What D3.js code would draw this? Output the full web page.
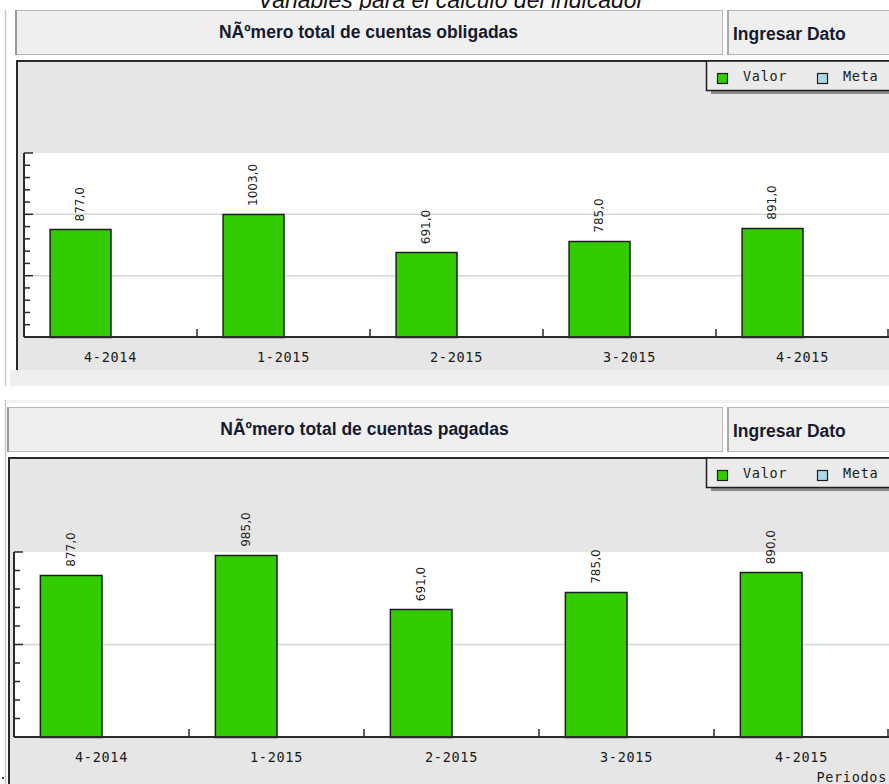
<!DOCTYPE html>
<html>
<head>
<meta charset="utf-8">
<script src="https://cdn.jsdelivr.net/npm/d3@7"></script>
<style>
  html, body { margin: 0; padding: 0; background: #ffffff; }
  svg { display: block; }
</style>
</head>
<body>
<svg id="page" width="889" height="784"></svg>
<script>
// Periods on the category axis
const periods = ["4-2014", "1-2015", "2-2015", "3-2015", "4-2015"];
// Series names (legend)
const seriesNames = ["Valor", "Meta"];
// Values per period
const obligadasValor = [877, 1003, 691, 785, 891];
const pagadasValor = [877, 985, 691, 785, 890];
const metaValor = [null, null, null, null, null];
// Value axis ticks
const obligadasMinorTicks = d3.range(0, 1501, 100);
const obligadasMajorTicks = [500, 1000, 1500];
const pagadasMinorTicks = d3.range(0, 1001, 100);
const pagadasMajorTicks = [500, 1000];

const pageTitle = "Variables para el cálculo del indicador";
const titles = ["NÃºmero total de cuentas obligadas", "NÃºmero total de cuentas pagadas"];
const actionLabel = "Ingresar Dato";
const xAxisName = "Periodos";

const svg = d3.select("#page");
const W = 889;
const colors = { Valor: "#33cc00", Meta: "#add8e6" };
const mono = "'DejaVu Sans Mono', 'Liberation Mono', monospace";

// page heading, partly above the top edge
svg.append("text")
  .attr("x", 451).attr("y", 8)
  .attr("text-anchor", "middle")
  .attr("font-family", "'Liberation Sans', Arial, sans-serif")
  .attr("font-style", "italic")
  .attr("font-size", 23)
  .attr("fill", "#111")
  .text(pageTitle);

function header(y, left, title) {
  const g = svg.append("g");
  g.append("rect").attr("x", left + 0.5).attr("y", y + 0.5)
    .attr("width", 722 - left).attr("height", 44)
    .attr("fill", "#efefef").attr("stroke", "#b8b8b8");
  g.append("line").attr("x1", left + 1).attr("x2", left + 1).attr("y1", y).attr("y2", y + 45)
    .attr("stroke", "#9a9a9a").attr("stroke-width", 2);
  g.append("rect").attr("x", 727.5).attr("y", y + 0.5)
    .attr("width", 170).attr("height", 44)
    .attr("fill", "#efefef").attr("stroke", "#b8b8b8");
  g.append("line").attr("x1", 728).attr("x2", 728).attr("y1", y).attr("y2", y + 45)
    .attr("stroke", "#a8a8a8").attr("stroke-width", 2);
  g.append("text")
    .attr("x", (left + 722) / 2).attr("y", y + 28)
    .attr("text-anchor", "middle")
    .attr("font-family", "'Liberation Sans', Arial, sans-serif")
    .attr("font-weight", "bold").attr("font-size", 17.5)
    .attr("fill", "#161a30")
    .text(title);
  g.append("text")
    .attr("x", 733).attr("y", y + 30)
    .attr("font-family", "'Liberation Sans', Arial, sans-serif")
    .attr("font-weight", "bold").attr("font-size", 17.5)
    .attr("fill", "#161a30")
    .text(actionLabel);
}

function chart(cfg) {
  const g = svg.append("g");
  // frame background with top and left border
  g.append("rect")
    .attr("x", cfg.frameX).attr("y", cfg.frameY)
    .attr("width", W - cfg.frameX + 10).attr("height", cfg.frameH)
    .attr("fill", "#e6e6e6");
  g.append("path")
    .attr("d", `M${cfg.frameX},${cfg.frameY + cfg.frameH}V${cfg.frameY}H${W + 5}`)
    .attr("fill", "none").attr("stroke", "#2a2a2a").attr("stroke-width", 2);

  const x = d3.scaleBand().domain(periods).range([cfg.left, cfg.right]).padding(0);
  const xs = d3.scaleBand().domain(seriesNames).range([0, x.bandwidth()]).paddingOuter(0.42).paddingInner(0);
  const y = d3.scaleLinear().domain(cfg.domain).range([cfg.bottom, cfg.top]);

  // plot area
  g.append("rect")
    .attr("x", cfg.left).attr("y", cfg.top)
    .attr("width", cfg.right - cfg.left + 10).attr("height", cfg.bottom - cfg.top)
    .attr("fill", "#ffffff");

  // grid lines
  g.selectAll(".grid").data(cfg.major.filter(v => v < cfg.domain[1])).join("line")
    .attr("x1", cfg.left).attr("x2", cfg.right + 10)
    .attr("y1", d => y(d)).attr("y2", d => y(d))
    .attr("stroke", "#d6d6d6").attr("stroke-width", 1.5);

  // bars
  const rows = periods.map((p, i) => ({ p, vals: [
    { s: "Valor", v: cfg.values[i] },
    { s: "Meta", v: metaValor[i] }
  ]}));
  const grp = g.selectAll(".grp").data(rows).join("g")
    .attr("transform", d => `translate(${x(d.p)},0)`);
  grp.selectAll("rect").data(d => d.vals.filter(e => e.v != null)).join("rect")
    .attr("x", d => xs(d.s) + 0.5)
    .attr("y", d => Math.round(y(d.v)) + 0.5)
    .attr("width", xs.bandwidth())
    .attr("height", d => cfg.bottom - Math.round(y(d.v)))
    .attr("fill", d => colors[d.s])
    .attr("stroke", "#1e1e1e").attr("stroke-width", 1.5);
  grp.selectAll("text").data(d => d.vals.filter(e => e.v != null)).join("text")
    .attr("transform", d => `translate(${xs(d.s) + xs.bandwidth() / 2 + 4},${y(d.v) - 8}) rotate(-90)`)
    .attr("font-family", "'DejaVu Sans', sans-serif")
    .attr("font-size", 12)
    .attr("fill", "#222")
    .text(d => d3.format(".1f")(d.v).replace(".", ","));

  // value axis with minor and major ticks pointing inward
  g.append("line").attr("x1", cfg.left).attr("x2", cfg.left)
    .attr("y1", cfg.top).attr("y2", cfg.bottom)
    .attr("stroke", "#2a2a2a").attr("stroke-width", 2);
  g.selectAll(".ytick").data(cfg.minor).join("line")
    .attr("x1", cfg.left)
    .attr("x2", d => cfg.left + (cfg.major.includes(d) ? 9 : 6))
    .attr("y1", d => y(d)).attr("y2", d => y(d))
    .attr("stroke", "#2a2a2a").attr("stroke-width", 1.5);

  // category axis
  g.append("line").attr("x1", cfg.left).attr("x2", cfg.right + 10)
    .attr("y1", cfg.bottom).attr("y2", cfg.bottom)
    .attr("stroke", "#2a2a2a").attr("stroke-width", 2);
  g.selectAll(".xtick").data(periods.slice(1).map(p => x(p)).concat([cfg.right - 1])).join("line")
    .attr("x1", d => d).attr("x2", d => d)
    .attr("y1", cfg.bottom).attr("y2", cfg.bottom - 8)
    .attr("stroke", "#2a2a2a").attr("stroke-width", 1.5);
  g.selectAll(".xlabel").data(periods).join("text")
    .attr("x", d => x(d) + x.bandwidth() / 2)
    .attr("y", cfg.bottom + 25)
    .attr("text-anchor", "middle")
    .attr("font-family", mono).attr("font-size", 13.5)
    .attr("letter-spacing", 0.7)
    .attr("fill", "#1a1a1a")
    .text(d => d);

  if (cfg.axisName) {
    g.append("text")
      .attr("x", 887).attr("y", cfg.bottom + 45)
      .attr("text-anchor", "end")
      .attr("font-family", mono).attr("font-size", 13.5)
      .attr("letter-spacing", 0.7)
      .attr("fill", "#1a1a1a")
      .text(xAxisName);
  }

  // legend
  const lx = 706, ly = cfg.frameY;
  g.append("rect").attr("x", lx + 5).attr("y", ly + 4).attr("width", 200).attr("height", 29)
    .attr("fill", "#8a8a8a");
  g.append("rect").attr("x", lx + 0.5).attr("y", ly).attr("width", 200).attr("height", 29.5)
    .attr("fill", "#ebebeb").attr("stroke", "#1e1e1e").attr("stroke-width", 1.5);
  const items = [{ s: "Valor", x: 717 }, { s: "Meta", x: 817 }];
  items.forEach(it => {
    g.append("rect").attr("x", it.x + 0.5).attr("y", ly + 12.5).attr("width", 10).attr("height", 10)
      .attr("fill", colors[it.s]).attr("stroke", "#1e1e1e").attr("stroke-width", 1.2);
    g.append("text").attr("x", it.x + 26).attr("y", ly + 20)
      .attr("font-family", mono).attr("font-size", 13.5).attr("letter-spacing", 0.7)
      .attr("fill", "#1a1a1a").text(it.s);
  });
}

// left page rules
svg.append("line").attr("x1", 5.5).attr("x2", 5.5).attr("y1", 10).attr("y2", 386)
  .attr("stroke", "#c8c8c8").attr("stroke-width", 1.5);
svg.append("line").attr("x1", 5.5).attr("x2", 5.5).attr("y1", 400).attr("y2", 784)
  .attr("stroke", "#c8c8c8").attr("stroke-width", 1.5);

// first panel
header(10, 15, titles[0]);
svg.append("rect").attr("x", 10).attr("y", 370).attr("width", 880).attr("height", 16).attr("fill", "#efefef");
chart({
  frameX: 17, frameY: 61, frameH: 309,
  left: 24, right: 889, top: 153, bottom: 337,
  domain: [0, 1500], minor: obligadasMinorTicks, major: obligadasMajorTicks,
  values: obligadasValor, axisName: false
});

// second panel
svg.append("rect").attr("x", 7).attr("y", 400).attr("width", 883).attr("height", 3).attr("fill", "#f2f2f2");
header(407, 7, titles[1]);
chart({
  frameX: 9, frameY: 458, frameH: 340,
  left: 14, right: 889, top: 552, bottom: 737,
  domain: [0, 1000], minor: pagadasMinorTicks, major: pagadasMajorTicks,
  values: pagadasValor, axisName: true
});
svg.append("rect").attr("x", 2).attr("y", 777).attr("width", 2).attr("height", 2).attr("fill", "#333");
</script>
</body>
</html>
